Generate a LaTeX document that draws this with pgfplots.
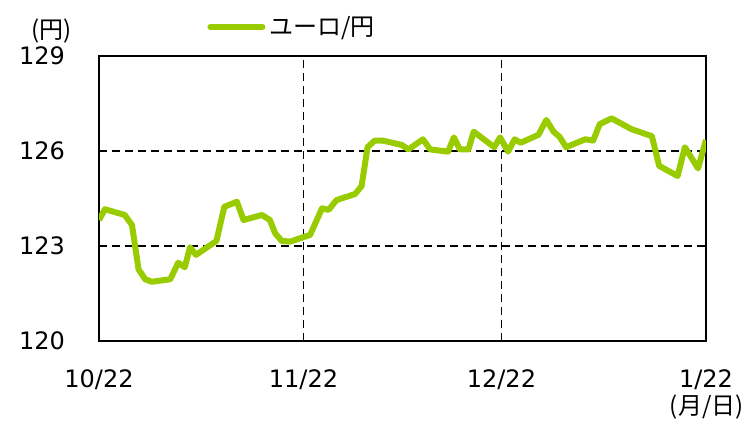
\documentclass[border=0pt]{standalone}
\usepackage{fontspec}
\setmainfont{DejaVu Sans}
\newfontfamily\jp{Noto Sans CJK JP}
\usepackage{pgfplots}
\pgfplotsset{compat=1.18}
\definecolor{lgreen}{HTML}{99CC00}

\begin{document}
\begin{tikzpicture}[x=1pt,y=1pt]
\useasboundingbox (-49.5,-40) rectangle (323,170.5);
\begin{axis}[
  at={(0,0)}, anchor=south west,
  scale only axis, width=303.5pt, height=142.5pt,
  xmin=0, xmax=92, ymin=120, ymax=129,
  xtick={0,31,61,92}, xticklabels={10/22,11/22,12/22,1/22},
  ytick={120,123,126,129},
  major tick length=0pt,
  axis line style={line width=1pt},
  xmajorgrids, ymajorgrids,
  grid style={black, line width=0.8pt, dash pattern=on 4pt off 2.5pt},
  tick label style={font=\fontsize{12}{14}\selectfont},
  /pgf/number format/assume math mode=true,
  yticklabel style={xshift=-13.5pt},
  xticklabel style={yshift=-11pt},
  legend style={at={(54pt,157pt)}, anchor=west, draw=none, fill=none,
    font=\fontsize{12}{14}\selectfont, inner sep=0pt},
  legend cell align=left,
  legend image code/.code={\draw[line width=3pt, line cap=round] (0pt,0pt) -- (26pt,0pt);},
]
\addplot[lgreen, line width=3pt, line join=round] coordinates {
(0,123.82)(0.9,124.16)(3.9,123.98)(5.0,123.66)(6.0,122.26)(7.0,121.95)(8.0,121.87)
(10.8,121.95)(12.0,122.47)(13.0,122.33)(13.8,122.96)(14.7,122.72)(17.8,123.16)
(19.0,124.24)(20.1,124.33)(20.9,124.40)(21.9,123.82)(24.7,123.98)(25.9,123.82)
(26.7,123.40)(27.7,123.16)(29.0,123.14)(32.0,123.35)(33.8,124.19)(34.8,124.14)
(36.0,124.45)(38.8,124.64)(39.8,124.89)(40.7,126.12)(41.8,126.33)(43.0,126.33)
(45.9,126.19)(46.9,126.05)(49.1,126.37)(50.2,126.05)(52.9,125.98)(53.8,126.43)
(54.7,126.05)(56.0,126.05)(56.8,126.61)(59.9,126.12)(60.8,126.43)(62.0,125.98)
(63.0,126.37)(63.9,126.26)(66.6,126.51)(67.8,126.98)(68.9,126.61)(69.8,126.45)
(70.8,126.12)(73.7,126.37)(74.9,126.33)(75.9,126.85)(77.7,127.03)(80.7,126.69)
(83.8,126.47)(84.9,125.53)(87.7,125.21)(88.8,126.12)(90.8,125.45)(92,126.35)
};
\addlegendentry{\jp ユーロ/円}
\end{axis}
\node[font=\fontsize{12}{14}\selectfont] at (-23.5,155) {\jp (円)};
\node[anchor=south east, inner sep=0.5pt, font=\fontsize{12}{14}\selectfont] at (323,-40) {\jp (月/日)};
\end{tikzpicture}
\end{document}
